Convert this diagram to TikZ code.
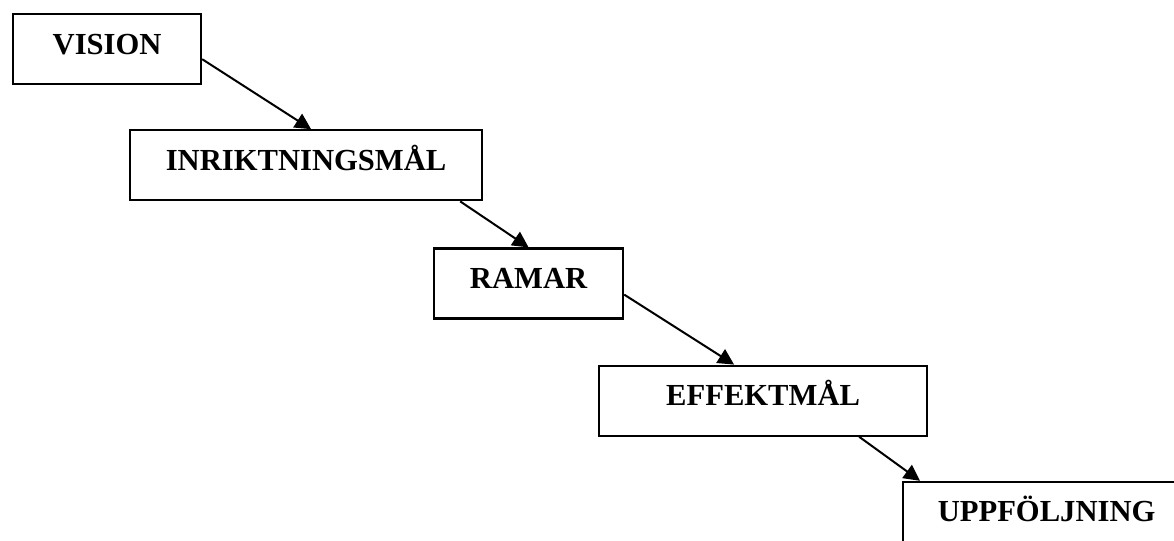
\documentclass[tikz,border=0pt]{standalone}
\usepackage{fontspec}
\setmainfont{Liberation Serif}
\usetikzlibrary{positioning,arrows.meta}

\begin{document}
\begin{tikzpicture}[x=0.5pt, y=-0.5pt, stage/.style={rectangle, draw, line width=1.1pt, minimum width=#1, inner ysep=10pt, text height=10pt, text depth=5pt, font=\fontsize{15.3}{18}\selectfont\bfseries}, line/.style={draw, line width=1pt, -{Triangle[length=8pt, width=8pt]}}]
        \clip (0,0) rectangle (1174,541);
        \useasboundingbox (0,0) rectangle (1174,541);

        % Nodes
        \node [stage=94pt, anchor=north west] (vision) at (12,13) {VISION};
        \node [stage=176pt, below right=22pt and 58.5pt of vision.south west] (inriktning) {INRIKTNINGSMÅL};
        \node [stage=94.5pt, below right=23pt and 152pt of inriktning.south west] (ramar) {RAMAR};
        \node [stage=164pt, below right=22.5pt and 82.5pt of ramar.south west] (effekt) {EFFEKTMÅL};
        \node [stage=143.5pt, below right=22pt and 152pt of effekt.south west] (uppfoljning) {UPPFÖLJNING};

        % Arrows
        \path [line] ([yshift=13pt]vision.south east) -- ([xshift=2.5pt]inriktning.north);
        \path [line] ([xshift=-11.5pt]inriktning.south east) -- (ramar.north);
        \path [line] ([yshift=12.5pt]ramar.south east) -- ([xshift=-14.5pt]effekt.north);
        \path [line] ([xshift=-34.5pt]effekt.south east) -- ([xshift=9pt]uppfoljning.north west);
    \end{tikzpicture}
\end{document}
